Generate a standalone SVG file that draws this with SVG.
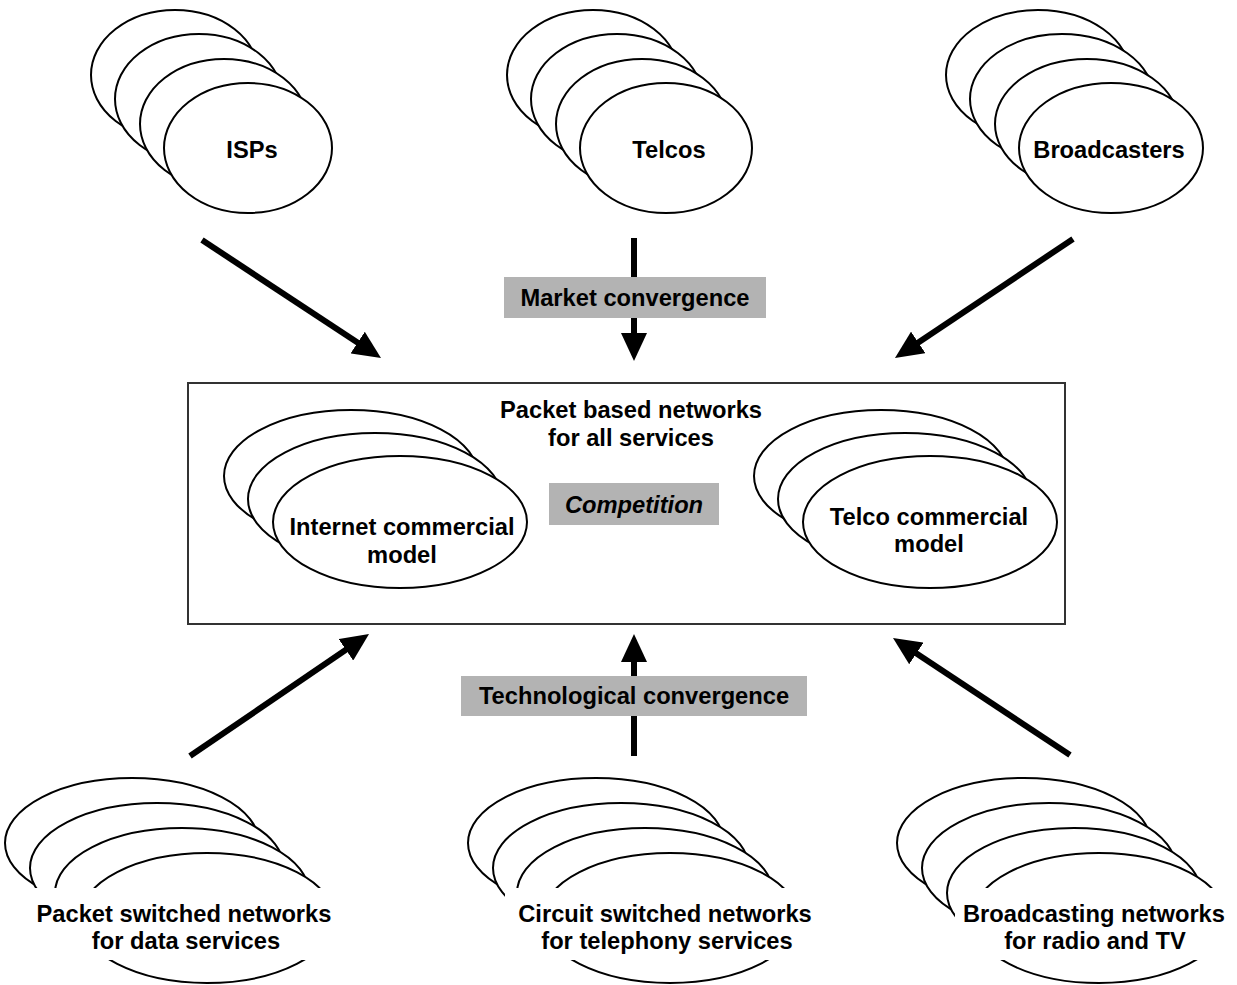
<svg xmlns="http://www.w3.org/2000/svg" width="1237" height="985" viewBox="0 0 1237 985">
<style>
.e{fill:#fff;stroke:#000;stroke-width:2}
.t{font-family:"Liberation Sans",Arial,sans-serif;font-weight:bold;font-size:23.7px;fill:#000;text-anchor:middle}
.it{font-style:italic}
.g{fill:#b3b3b3}
.a{stroke:#000;stroke-width:6;fill:none;marker-end:url(#ah)}
.wb{fill:#fff}
</style>
<defs>
<marker id="ah" viewBox="0 0 28 26" refX="8" refY="13" markerWidth="28" markerHeight="26" markerUnits="userSpaceOnUse" orient="auto">
<path d="M0,0 L28,13 L0,26 z" fill="#000"/>
</marker>
</defs>
<rect width="1237" height="985" fill="#fff"/>

<g id="isps">
<ellipse class="e" cx="175" cy="75" rx="84" ry="65"/>
<ellipse class="e" cx="199" cy="99" rx="84" ry="65"/>
<ellipse class="e" cx="224" cy="124" rx="84" ry="65"/>
<ellipse class="e" cx="248" cy="148" rx="84" ry="65"/>
<text class="t" x="252" y="158">ISPs</text>
</g>
<g id="telcos">
<ellipse class="e" cx="593" cy="75" rx="86" ry="65"/>
<ellipse class="e" cx="617" cy="99" rx="86" ry="65"/>
<ellipse class="e" cx="642" cy="124" rx="86" ry="65"/>
<ellipse class="e" cx="666" cy="148" rx="86" ry="65"/>
<text class="t" x="669" y="158">Telcos</text>
</g>
<g id="broadcasters">
<ellipse class="e" cx="1038" cy="75" rx="92" ry="65"/>
<ellipse class="e" cx="1062" cy="99" rx="92" ry="65"/>
<ellipse class="e" cx="1087" cy="124" rx="92" ry="65"/>
<ellipse class="e" cx="1111" cy="148" rx="92" ry="65"/>
<text class="t" x="1109" y="158">Broadcasters</text>
</g>

<g id="packet-based">
<rect x="188" y="383" width="877" height="241" fill="#fff" stroke="#333" stroke-width="2"/>
<text class="t" x="631" y="418">Packet based networks</text>
<text class="t" x="631" y="446">for all services</text>
</g>
<g id="internet-model">
<ellipse class="e" cx="351" cy="476" rx="127" ry="66"/>
<ellipse class="e" cx="375" cy="499" rx="127" ry="66"/>
<ellipse class="e" cx="400" cy="522" rx="127" ry="66"/>
<text class="t" x="402" y="535">Internet commercial</text>
<text class="t" x="402" y="563">model</text>
</g>
<g id="competition">
<rect class="g" x="549" y="483" width="170" height="42"/>
<text class="t it" x="634" y="513">Competition</text>
</g>
<g id="telco-model">
<ellipse class="e" cx="881" cy="476" rx="127" ry="66"/>
<ellipse class="e" cx="905" cy="499" rx="127" ry="66"/>
<ellipse class="e" cx="930" cy="522" rx="127" ry="66"/>
<text class="t" x="929" y="525">Telco commercial</text>
<text class="t" x="929" y="552">model</text>
</g>

<g id="packet-switched">
<ellipse class="e" cx="132" cy="843" rx="127" ry="65"/>
<ellipse class="e" cx="157" cy="868" rx="127" ry="65"/>
<ellipse class="e" cx="182" cy="893" rx="127" ry="65"/>
<ellipse class="e" cx="207" cy="918" rx="127" ry="65"/>
<rect class="wb" x="28" y="888" width="315" height="72"/>
<text class="t" x="184" y="922">Packet switched networks</text>
<text class="t" x="186" y="949">for data services</text>
</g>
<g id="circuit-switched">
<ellipse class="e" cx="596" cy="843" rx="128" ry="65"/>
<ellipse class="e" cx="621" cy="868" rx="128" ry="65"/>
<ellipse class="e" cx="645" cy="893" rx="128" ry="65"/>
<ellipse class="e" cx="670" cy="918" rx="128" ry="65"/>
<rect class="wb" x="505" y="888" width="320" height="72"/>
<text class="t" x="665" y="922">Circuit switched networks</text>
<text class="t" x="667" y="949">for telephony services</text>
</g>
<g id="broadcasting">
<ellipse class="e" cx="1024" cy="843" rx="127" ry="65"/>
<ellipse class="e" cx="1049" cy="868" rx="127" ry="65"/>
<ellipse class="e" cx="1074" cy="893" rx="127" ry="65"/>
<ellipse class="e" cx="1099" cy="918" rx="127" ry="65"/>
<rect class="wb" x="955" y="888" width="280" height="72"/>
<text class="t" x="1094" y="922">Broadcasting networks</text>
<text class="t" x="1095" y="949">for radio and TV</text>
</g>

<g id="connectors">
<line class="a" x1="202" y1="240" x2="364.3" y2="347"/>
<line class="a" x1="1073" y1="239" x2="911.6" y2="346.9"/>
<line class="a" x1="634" y1="238" x2="634" y2="341"/>
<line class="a" x1="190" y1="756" x2="352.5" y2="645.3"/>
<line class="a" x1="1070" y1="755" x2="909.7" y2="649"/>
<line class="a" x1="634" y1="756" x2="634" y2="654"/>
</g>
<g id="market-label">
<rect class="g" x="504" y="277" width="262" height="41"/>
<text class="t" x="635" y="306">Market convergence</text>
</g>
<g id="tech-label">
<rect class="g" x="461" y="676" width="346" height="40"/>
<text class="t" x="634" y="704">Technological convergence</text>
</g>
</svg>
